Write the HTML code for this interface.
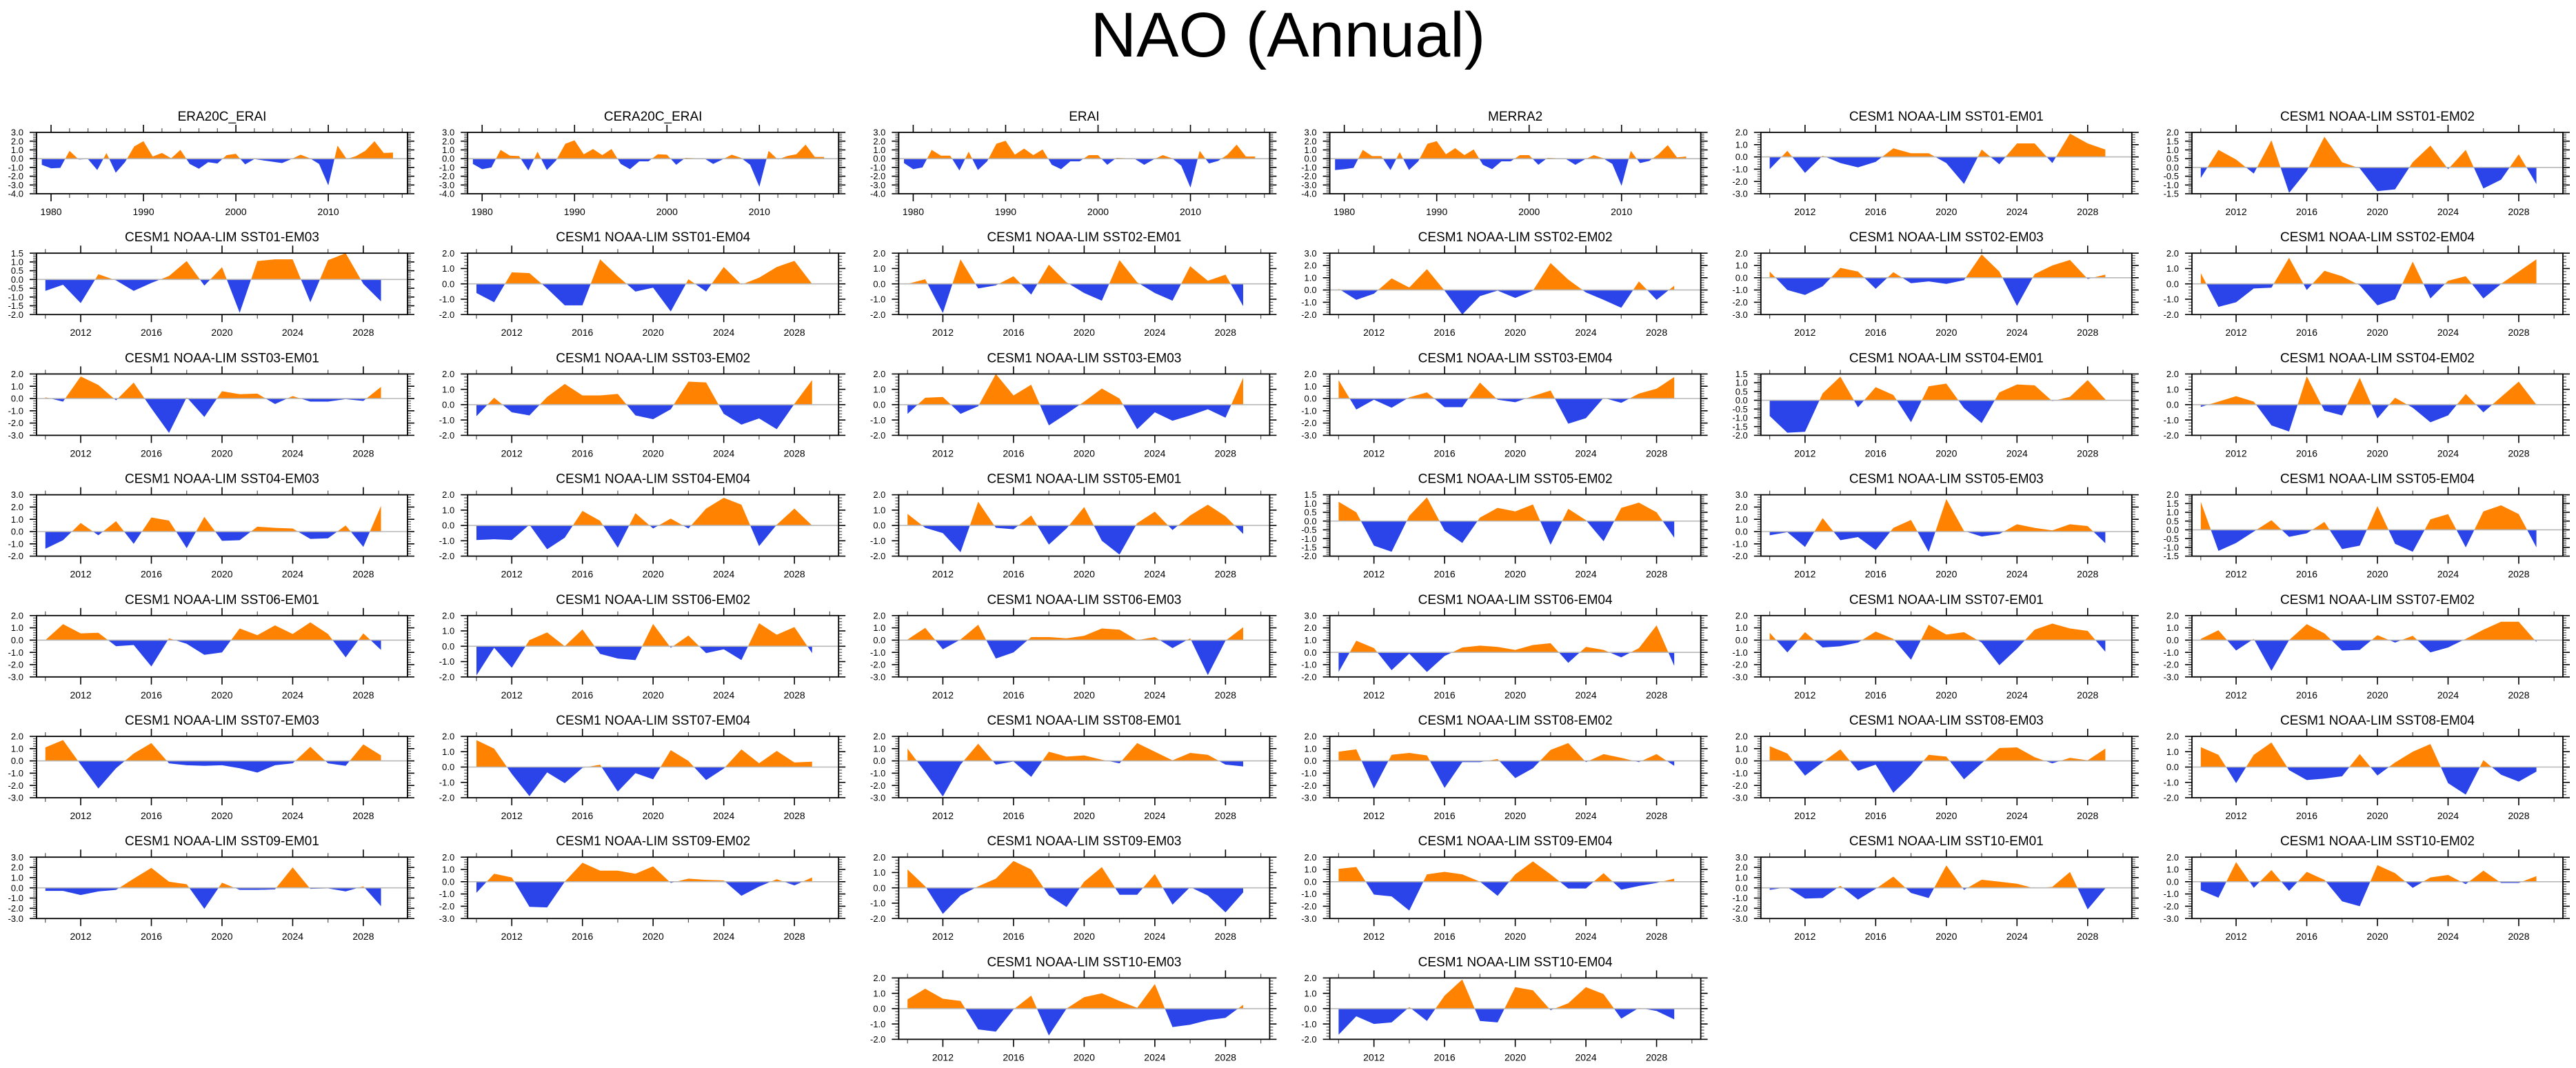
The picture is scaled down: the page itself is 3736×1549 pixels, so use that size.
<!DOCTYPE html>
<html><head><meta charset="utf-8"><title>NAO (Annual)</title>
<style>
html,body{margin:0;padding:0;background:#fff;}
svg{display:block;font-family:"Liberation Sans",Arial,sans-serif;}
</style></head>
<body>
<svg id="chart" xmlns="http://www.w3.org/2000/svg" width="3736" height="1549" viewBox="0 0 3736 1549">
<rect x="0" y="0" width="3736" height="1549" fill="#ffffff"/>
<text x="1868" y="82" text-anchor="middle" font-size="92" fill="#000">NAO (Annual)</text>
<g id="panels"></g>
</svg>
<script>
const panelTitles = ["ERA20C_ERAI","CERA20C_ERAI","ERAI","MERRA2","CESM1 NOAA-LIM SST01-EM01","CESM1 NOAA-LIM SST01-EM02",
"CESM1 NOAA-LIM SST01-EM03","CESM1 NOAA-LIM SST01-EM04","CESM1 NOAA-LIM SST02-EM01","CESM1 NOAA-LIM SST02-EM02","CESM1 NOAA-LIM SST02-EM03","CESM1 NOAA-LIM SST02-EM04",
"CESM1 NOAA-LIM SST03-EM01","CESM1 NOAA-LIM SST03-EM02","CESM1 NOAA-LIM SST03-EM03","CESM1 NOAA-LIM SST03-EM04","CESM1 NOAA-LIM SST04-EM01","CESM1 NOAA-LIM SST04-EM02",
"CESM1 NOAA-LIM SST04-EM03","CESM1 NOAA-LIM SST04-EM04","CESM1 NOAA-LIM SST05-EM01","CESM1 NOAA-LIM SST05-EM02","CESM1 NOAA-LIM SST05-EM03","CESM1 NOAA-LIM SST05-EM04",
"CESM1 NOAA-LIM SST06-EM01","CESM1 NOAA-LIM SST06-EM02","CESM1 NOAA-LIM SST06-EM03","CESM1 NOAA-LIM SST06-EM04","CESM1 NOAA-LIM SST07-EM01","CESM1 NOAA-LIM SST07-EM02",
"CESM1 NOAA-LIM SST07-EM03","CESM1 NOAA-LIM SST07-EM04","CESM1 NOAA-LIM SST08-EM01","CESM1 NOAA-LIM SST08-EM02","CESM1 NOAA-LIM SST08-EM03","CESM1 NOAA-LIM SST08-EM04",
"CESM1 NOAA-LIM SST09-EM01","CESM1 NOAA-LIM SST09-EM02","CESM1 NOAA-LIM SST09-EM03","CESM1 NOAA-LIM SST09-EM04","CESM1 NOAA-LIM SST10-EM01","CESM1 NOAA-LIM SST10-EM02",
"CESM1 NOAA-LIM SST10-EM03","CESM1 NOAA-LIM SST10-EM04"];
const panelYMin = [-4,-4,-4,-4,-3,-1.5, -2,-2,-2,-2,-3,-2, -3,-2,-2,-3,-2,-2, -2,-2,-2,-2,-2,-1.5, -3,-2,-3,-2,-3,-3, -3,-2,-3,-3,-3,-2, -3,-3,-2,-3,-3,-3, -2,-2];
const panelYMax = [3,3,3,3,2,2, 1.5,2,2,3,2,2, 2,2,2,2,1.5,2, 3,2,2,1.5,3,2, 2,2,2,3,2,2, 2,2,2,2,2,2, 3,2,2,2,3,2, 2,2];
const eraYears = [1979,1980,1981,1982,1983,1984,1985,1986,1987,1988,1989,1990,1991,1992,1993,1994,1995,1996,1997,1998,1999,2000,2001,2002,2003,2004,2005,2006,2007,2008,2009,2010,2011,2012,2013,2014,2015,2016,2017];
const cesmYears = [2010,2011,2012,2013,2014,2015,2016,2017,2018,2019,2020,2021,2022,2023,2024,2025,2026,2027,2028,2029];
const eraTickLabels = [1980,1990,2000,2010];
const cesmTickLabels = [2012,2016,2020,2024,2028];
const reanalysisValues = [
[-0.7,-1.1,-1.05,0.9,-0.1,-0.05,-1.3,0.65,-1.6,-0.4,1.4,2.0,0.25,0.65,0.05,1.0,-0.6,-1.15,-0.4,-0.55,0.4,0.55,-0.65,-0.05,-0.2,-0.35,-0.5,-0.05,0.45,0.05,-0.6,-3.05,1.5,-0.05,0.3,0.9,2.0,0.65,0.7],
[-0.6,-1.2,-1.0,1.0,0.35,0.3,-1.35,0.8,-1.3,-0.2,1.7,2.1,0.5,1.1,0.4,1.1,-0.6,-1.2,-0.3,-0.3,0.5,0.45,-0.7,0.1,0.05,0.05,-0.6,-0.1,0.45,0.1,-0.7,-3.2,0.9,-0.1,0.3,0.5,1.6,0.2,0.2],
[-0.5,-1.2,-1.0,1.0,0.35,0.35,-1.35,0.8,-1.3,-0.3,1.7,2.05,0.45,1.15,0.4,1.05,-0.7,-1.2,-0.3,-0.3,0.4,0.4,-0.7,0.1,0.05,-0.05,-0.7,-0.1,0.4,0.05,-0.8,-3.3,0.9,-0.55,-0.25,0.45,1.6,0.25,0.25],
[-1.3,-1.2,-1.05,1.0,0.3,0.3,-1.3,0.75,-1.3,-0.3,1.7,2.0,0.5,1.2,0.4,1.05,-0.7,-1.2,-0.3,-0.3,0.4,0.4,-0.7,0.1,0.05,-0.05,-0.7,-0.1,0.4,0.05,-0.6,-3.1,0.9,-0.5,-0.25,0.5,1.55,0.15,0.25]];
const cesmValues = [
[-1.0,0.5,-1.3,0.1,-0.5,-0.85,-0.4,0.7,0.3,0.3,-0.5,-2.2,0.6,-0.6,1.1,1.1,-0.5,1.9,1.1,0.6],
[-0.6,1.0,0.45,-0.35,1.55,-1.45,-0.2,1.75,0.3,-0.05,-1.35,-1.25,0.3,1.25,-0.1,1.0,-1.2,-0.7,0.75,-0.95],
[-0.65,-0.3,-1.35,0.3,-0.05,-0.65,-0.2,0.2,1.05,-0.35,0.7,-1.9,1.05,1.15,1.15,-1.3,1.1,1.5,-0.25,-1.25],
[-0.6,-1.2,0.75,0.7,-0.3,-1.4,-1.4,1.6,0.5,-0.5,-0.25,-1.8,0.3,-0.5,1.1,-0.05,0.4,1.1,1.5,0.0],
[0.0,0.3,-1.9,1.6,-0.3,-0.1,0.5,-0.7,1.25,0.1,-0.6,-1.1,1.55,0.1,-0.6,-1.1,1.15,0.2,0.6,-1.45],
[0.1,-0.8,-0.3,0.95,0.2,1.7,-0.05,-2.0,-0.5,-0.05,-0.65,-0.05,2.2,0.85,-0.2,-0.8,-1.45,0.7,-0.8,0.35],
[0.5,-1.0,-1.4,-0.7,0.8,0.5,-0.9,0.45,-0.45,-0.3,-0.5,-0.2,1.9,0.5,-2.3,0.3,1.0,1.45,-0.1,0.25],
[0.7,-1.5,-1.2,-0.3,-0.25,1.7,-0.4,0.85,0.5,-0.1,-1.4,-1.0,1.45,-0.95,0.2,0.5,-0.95,0.0,0.8,1.6],
[0.1,-0.25,1.8,1.1,-0.15,1.3,-0.8,-2.8,0.1,-1.5,0.6,0.35,0.4,-0.45,0.2,-0.25,-0.25,-0.05,-0.2,0.95],
[-0.75,0.45,-0.5,-0.7,0.5,1.35,0.6,0.6,0.7,-0.7,-0.95,-0.3,1.5,1.45,-0.6,-1.3,-0.9,-1.6,0.05,1.6],
[-0.6,0.45,0.5,-0.6,-0.1,2.0,0.6,1.3,-1.35,-0.6,0.2,1.05,0.4,-1.6,-0.5,-1.05,-0.7,-0.3,-0.85,1.75],
[1.5,-0.9,-0.1,-0.75,0.1,0.5,-0.7,-0.7,1.3,-0.1,-0.3,0.2,0.65,-2.05,-1.6,0.05,-0.35,0.4,0.8,1.75],
[-0.9,-1.85,-1.8,0.4,1.35,-0.4,0.75,0.3,-1.25,0.8,0.95,-0.45,-1.3,0.45,0.9,0.85,-0.05,0.2,1.15,0.05],
[-0.15,0.2,0.55,0.2,-1.35,-1.75,1.85,-0.4,-0.7,1.75,-0.9,0.45,-0.2,-1.15,-0.7,0.7,-0.5,0.5,1.5,0.0],
[-1.4,-0.7,0.7,-0.3,0.85,-1.0,1.15,0.9,-1.35,1.2,-0.75,-0.7,0.4,0.3,0.25,-0.6,-0.55,0.5,-1.25,2.1],
[-0.95,-0.9,-0.95,0.05,-1.55,-0.8,0.95,0.3,-1.45,0.8,-0.2,0.45,-0.2,1.1,1.8,1.35,-1.35,0.05,1.1,0.0],
[0.75,-0.15,-0.5,-1.75,1.55,-0.15,-0.25,0.65,-1.25,-0.2,1.2,-1.0,-1.9,0.15,0.9,-0.3,0.65,1.35,0.6,-0.55],
[1.1,0.5,-1.4,-1.75,0.3,1.35,-0.55,-1.25,0.2,0.75,0.55,0.95,-1.35,0.7,0.05,-1.15,0.75,1.05,0.5,-0.95],
[-0.3,-0.05,-1.25,1.1,-0.7,-0.45,-1.5,0.3,0.95,-1.65,2.65,0.05,-0.4,-0.2,0.6,0.3,0.1,0.6,0.45,-0.95],
[1.6,-1.2,-0.75,-0.1,0.55,-0.4,-0.2,0.45,-1.1,-0.9,1.35,-0.8,-1.25,0.6,0.9,-1.0,1.05,1.4,0.9,-1.0],
[0.0,1.3,0.55,0.6,-0.5,-0.4,-2.15,0.15,-0.3,-1.2,-1.0,0.95,0.4,1.2,0.5,1.45,0.5,-1.4,0.55,-0.8],
[-1.9,-0.1,-1.4,0.4,0.9,0.0,1.1,-0.5,-0.8,-0.9,1.45,-0.1,0.7,-0.45,-0.2,-0.9,1.5,0.75,1.25,-0.45],
[0.05,1.0,-0.75,0.05,1.25,-1.5,-1.0,0.25,0.25,0.15,0.35,0.95,0.85,0.0,0.25,-0.65,0.15,-2.85,-0.05,1.05],
[-1.6,0.95,0.35,-1.45,-0.1,-1.6,-0.3,0.4,0.55,0.45,0.2,0.6,0.75,-0.85,0.45,0.2,-0.4,0.35,2.2,-1.1],
[0.6,-1.0,0.65,-0.6,-0.5,-0.2,0.7,0.1,-1.6,1.25,0.45,0.65,-0.2,-2.05,-0.7,0.85,1.35,0.95,0.75,-0.95],
[0.1,0.8,-0.85,0.1,-2.5,0.0,1.3,0.55,-0.85,-0.8,0.4,-0.2,0.35,-1.0,-0.6,0.1,0.85,1.5,1.5,-0.15],
[1.1,1.7,-0.3,-2.25,-0.6,0.6,1.45,-0.2,-0.35,-0.4,-0.35,-0.6,-0.95,-0.35,-0.2,1.15,-0.2,-0.4,1.35,0.45],
[1.75,1.2,-0.45,-1.9,-0.35,-1.05,-0.05,0.15,-1.6,-0.4,-0.8,1.1,0.4,-0.85,-0.1,1.15,0.25,1.05,0.3,0.35],
[1.0,-0.9,-2.9,-0.3,1.4,-0.3,-0.05,-1.3,0.75,0.35,0.45,0.1,-0.2,1.45,0.75,0.05,0.65,0.5,-0.3,-0.45],
[0.75,0.95,-2.25,0.5,0.65,0.45,-2.2,-0.1,-0.1,0.15,-1.4,-0.6,0.9,1.45,-0.1,0.55,0.25,-0.1,0.55,-0.4],
[1.2,0.6,-1.2,-0.1,0.95,-0.8,-0.3,-2.6,-1.2,0.5,0.35,-1.5,-0.2,1.05,1.1,0.3,-0.2,0.25,0.05,1.0],
[1.3,0.8,-1.05,0.8,1.6,-0.2,-0.85,-0.75,-0.6,0.85,-0.55,0.3,1.0,1.5,-1.05,-1.8,0.45,-0.5,-0.95,-0.3],
[-0.3,-0.3,-0.7,-0.35,-0.2,0.9,1.95,0.6,0.35,-2.05,0.5,-0.2,-0.2,-0.15,2.0,-0.1,-0.05,-0.35,0.15,-1.8],
[-0.9,0.65,0.35,-2.05,-2.1,0.0,1.55,0.9,0.9,0.65,1.25,-0.1,0.25,0.15,0.1,-1.15,-0.4,0.2,-0.3,0.35],
[1.2,0.1,-1.7,-0.5,0.1,0.6,1.75,1.2,-0.5,-1.25,0.4,1.35,-0.45,-0.45,0.9,-1.1,0.05,-0.5,-1.6,-0.3],
[1.05,1.2,-1.05,-1.2,-2.35,0.6,0.8,0.6,0.0,-1.15,0.6,1.65,0.6,-0.55,-0.55,0.7,-0.65,-0.35,-0.1,0.25],
[-0.2,0.05,-1.05,-1.0,0.2,-1.15,-0.1,1.1,-0.5,-1.0,2.2,-0.2,0.8,0.6,0.4,-0.05,0.1,1.55,-2.1,-0.05],
[-0.7,-1.3,1.6,-0.5,0.95,-0.75,0.8,0.15,-1.6,-2.0,1.35,0.7,-0.5,0.35,0.55,-0.2,0.9,-0.1,-0.1,0.45],
[0.6,1.3,0.65,0.5,-1.35,-1.5,-0.05,0.85,-1.75,0.0,0.75,1.0,0.5,0.05,1.6,-1.2,-1.05,-0.75,-0.6,0.25],
[-1.7,-0.5,-1.0,-0.9,0.1,-0.8,0.85,1.9,-0.8,-0.9,1.4,1.2,-0.1,0.35,1.4,0.95,-0.65,0.05,-0.15,-0.7]];

const NS = "http://www.w3.org/2000/svg";
const root = document.getElementById('panels');
const PW = 538, PH = 89, COLX0 = 53, COLDX = 625.2, ROWY0 = 192, ROWDY = 175.2;
const ORANGE = "#ff8300", BLUE = "#2a44e9";

function mk(tag, attrs, parent) {
  const e = document.createElementNS(NS, tag);
  for (const k in attrs) e.setAttribute(k, attrs[k]);
  parent.appendChild(e);
  return e;
}
function fmt(v) { const s = (Math.round(v * 10) / 10).toFixed(1); return s === "-0.0" ? "0.0" : s; }

const nPanels = panelTitles.length;
for (let i = 0; i < nPanels; i++) {
  let row, col;
  if (i < 42) { row = Math.floor(i / 6); col = i % 6; } else { row = 7; col = i - 40; }
  const x0 = COLX0 + col * COLDX, y0 = ROWY0 + row * ROWDY;
  const isEra = i < 4;
  const years = isEra ? eraYears : cesmYears;
  const vals = isEra ? reanalysisValues[i] : cesmValues[i - 4];
  const xmin = isEra ? 1978.43 : 2009.5, xmax = isEra ? 2018.57 : 2030.5;
  const ymin = panelYMin[i], ymax = panelYMax[i];
  const xs = v => x0 + (v - xmin) / (xmax - xmin) * PW;
  const ys = v => y0 + PH - (v - ymin) / (ymax - ymin) * PH;

  const g = mk('g', {}, root);
  
  

  const t = mk('text', {x: x0 + PW / 2, y: y0 - 17, 'text-anchor': 'middle', 'font-size': 19, fill: '#000'}, g);
  t.textContent = panelTitles[i];
  
  

  // area fill
  const cid = 'clip' + i;
  const defs = mk('defs', {}, g);
  const cpUp = mk('clipPath', {id: cid + 'u'}, defs);
  mk('rect', {x: x0, y: y0, width: PW, height: ys(0) - y0}, cpUp);
  const cpDn = mk('clipPath', {id: cid + 'd'}, defs);
  mk('rect', {x: x0, y: ys(0), width: PW, height: y0 + PH - ys(0)}, cpDn);
  let d = 'M' + xs(years[0]).toFixed(2) + ',' + ys(0).toFixed(2);
  for (let k = 0; k < vals.length; k++) d += ' L' + xs(years[k]).toFixed(2) + ',' + ys(vals[k]).toFixed(2);
  d += ' L' + xs(years[vals.length - 1]).toFixed(2) + ',' + ys(0).toFixed(2) + ' Z';
  const pu = mk('path', {d: d, fill: ORANGE, 'clip-path': 'url(#' + cid + 'u)'}, g);
  
  
  const pd = mk('path', {d: d, fill: BLUE, 'clip-path': 'url(#' + cid + 'd)'}, g);
  
  

  const zl = mk('line', {x1: x0, x2: x0 + PW, y1: ys(0), y2: ys(0), stroke: '#b8b8b8', 'stroke-width': 1.6}, g);
  
  

  // y ticks
  const step = (ymax - ymin) <= 3.5 ? 0.5 : 1.0;
  const minor = step / 5;
  const nMinor = Math.round((ymax - ymin) / minor);
  for (let k = 0; k <= nMinor; k++) {
    const v = ymin + k * minor;
    const yy = ys(v);
    const major = (k % 5) === 0;
    const L = major ? 10 : 5;
    mk('line', {x1: x0 - L, x2: x0, y1: yy, y2: yy, stroke: major ? '#000' : '#555', 'stroke-width': major ? 1.6 : 1.2}, g);
    mk('line', {x1: x0 + PW, x2: x0 + PW + L, y1: yy, y2: yy, stroke: major ? '#000' : '#555', 'stroke-width': major ? 1.6 : 1.2}, g);
    if (major) {
      const lt = mk('text', {x: x0 - 19, y: yy + 4.6, 'text-anchor': 'end', 'font-size': 13, fill: '#000'}, g);
      lt.textContent = fmt(v);
      
      
    }
  }
  // x ticks
  const tickLabels = isEra ? eraTickLabels : cesmTickLabels;
  const xStart = isEra ? 1980 : 2010, xEnd = isEra ? 2018 : 2030;
  for (let yv = xStart; yv <= xEnd; yv += 2) {
    const xx = xs(yv);
    const major = tickLabels.indexOf(yv) >= 0;
    const L = major ? 11 : 6;
    mk('line', {x1: xx, x2: xx, y1: y0 - L, y2: y0, stroke: major ? '#000' : '#555', 'stroke-width': major ? 1.6 : 1.2}, g);
    mk('line', {x1: xx, x2: xx, y1: y0 + PH, y2: y0 + PH + L, stroke: major ? '#000' : '#555', 'stroke-width': major ? 1.6 : 1.2}, g);
  }
  for (let k = 0; k < tickLabels.length; k++) {
    const xt = mk('text', {x: xs(tickLabels[k]), y: y0 + 120, 'text-anchor': 'middle', 'font-size': 14, fill: '#000'}, g);
    xt.textContent = String(tickLabels[k]);
    
    
  }
  const fr = mk('rect', {x: x0, y: y0, width: PW, height: PH, fill: 'none', stroke: '#000', 'stroke-width': 1.8}, g);
  
  
}
</script>
</body></html>
